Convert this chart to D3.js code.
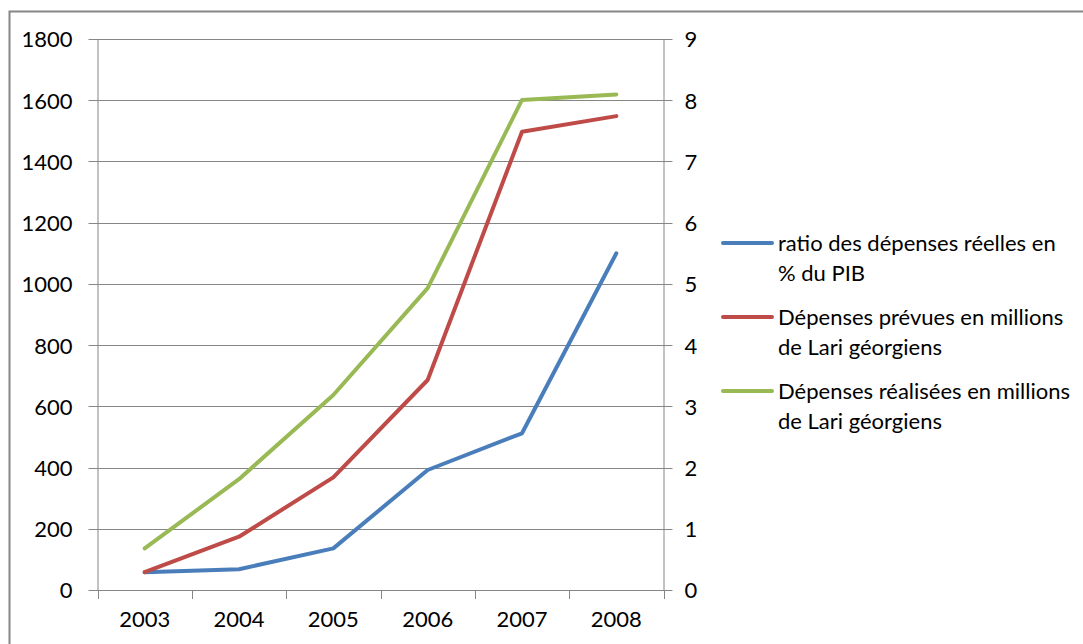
<!DOCTYPE html>
<html>
<head>
<meta charset="utf-8">
<script src="https://cdn.jsdelivr.net/npm/d3@7"></script>
<style>
	body { margin: 0; background: #fff; }
	#chart { width: 1083px; height: 644px; }
	text { font-family: Lato, "Open Sans", sans-serif; fill: #000; }
</style>
</head>
<body>
<div id="chart"></div>
<script>
const years = ['2003', '2004', '2005', '2006', '2007', '2008'];

// ratio des dépenses réelles en % du PIB (axe de droite)
const ratioPib = [0.29, 0.34, 0.68, 1.96, 2.56, 5.5];
// dépenses prévues, millions de Lari (axe de gauche)
const depensesPrevues = [58, 174, 368, 686, 1497, 1548];
// dépenses réalisées, millions de Lari (axe de gauche)
const depensesRealisees = [136, 362, 637, 986, 1601, 1619];

const leftTicks = [0, 200, 400, 600, 800, 1000, 1200, 1400, 1600, 1800];
const rightTicks = [0, 1, 2, 3, 4, 5, 6, 7, 8, 9];

const series = [
	{ label: ['ratio des dépenses réelles en', '% du PIB'], values: ratioPib, axis: 'right', color: '#4a7ebb' },
	{ label: ['Dépenses prévues en millions', 'de Lari géorgiens'], values: depensesPrevues, axis: 'left', color: '#be4b48' },
	{ label: ['Dépenses réalisées en millions', 'de Lari géorgiens'], values: depensesRealisees, axis: 'left', color: '#98b954' }
];

const dom = document.getElementById('chart');
const w = 1083, h = 644;
const plot = d3.select(dom).append('svg')
	.attr('width', w)
	.attr('height', h);

//Outer frame
plot.append('rect')
	.attr('x', 9.5).attr('y', 11.5)
	.attr('width', w + 20).attr('height', h + 20)
	.style('fill', 'none')
	.style('stroke', '#868686')
	.style('stroke-width', '2px');

const x0 = 97.5, x1 = 663.5, y0 = 590, y1 = 39;

const x = d3.scaleBand().domain(years).range([x0, x1]);
const yLeft = d3.scaleLinear().domain([0, 1800]).range([y0, y1]);
const yRight = d3.scaleLinear().domain([0, 9]).range([y0, y1]);

//Gridlines
plot.append('g')
	.selectAll('line')
	.data(leftTicks)
	.enter()
	.append('line')
	.attr('x1', x0 - 9).attr('x2', x1 + 9)
	.attr('y1', d => Math.round(yLeft(d)) + 0.5)
	.attr('y2', d => Math.round(yLeft(d)) + 0.5)
	.style('stroke', '#868686')
	.style('stroke-width', '1px');

//Left axis
const axisLeft = plot.append('g')
	.attr('transform', `translate(${x0},0)`)
	.call(d3.axisLeft(yLeft).tickValues(leftTicks).tickFormat(d3.format('d')).tickSize(0).tickPadding(25));
axisLeft.select('.domain').attr('stroke', '#868686');
axisLeft.selectAll('text').style('font-size', '22px').attr('dy', '0.36em');

//Right axis
const axisRight = plot.append('g')
	.attr('transform', `translate(${x1},0)`)
	.call(d3.axisRight(yRight).tickValues(rightTicks).tickSize(0).tickPadding(21));
axisRight.select('.domain').attr('stroke', '#868686');
axisRight.selectAll('text').style('font-size', '22px').attr('dy', '0.36em');

//Bottom axis
const axisBottom = plot.append('g')
	.attr('transform', `translate(0,${y0 + 0.5})`)
	.call(d3.axisBottom(x).tickSize(0).tickPadding(21));
axisBottom.select('.domain').remove();
axisBottom.selectAll('text').style('font-size', '22px');

//Category tick marks at band edges
plot.append('g')
	.selectAll('line')
	.data(years.concat(['end']))
	.enter()
	.append('line')
	.attr('x1', (d, i) => Math.round(x0 + i * x.bandwidth()) + 0.5)
	.attr('x2', (d, i) => Math.round(x0 + i * x.bandwidth()) + 0.5)
	.attr('y1', y0)
	.attr('y2', y0 + 9)
	.style('stroke', '#868686')
	.style('stroke-width', '1px');

//Lines
series.forEach(function(s){
	const yScale = s.axis === 'left' ? yLeft : yRight;
	const line = d3.line()
		.x((d, i) => x(years[i]) + x.bandwidth() / 2)
		.y(d => yScale(d));
	plot.append('path')
		.datum(s.values)
		.attr('d', line)
		.style('fill', 'none')
		.style('stroke', s.color)
		.style('stroke-width', '4px')
		.style('stroke-linejoin', 'round')
		.style('stroke-linecap', 'round');
});

//Legend
const legendY = [243, 317, 391];
const legend = plot.append('g');
series.forEach(function(s, i){
	const g = legend.append('g').attr('transform', `translate(723,${legendY[i]})`);
	g.append('line')
		.attr('x1', 0).attr('x2', 49)
		.attr('y1', 0).attr('y2', 0)
		.style('stroke', s.color)
		.style('stroke-width', '4px')
		.style('stroke-linecap', 'round');
	s.label.forEach(function(t, j){
		g.append('text')
			.attr('x', 55)
			.attr('y', 8 + j * 30)
			.style('font-size', '22px')
			.text(t);
	});
});
</script>
</body>
</html>
